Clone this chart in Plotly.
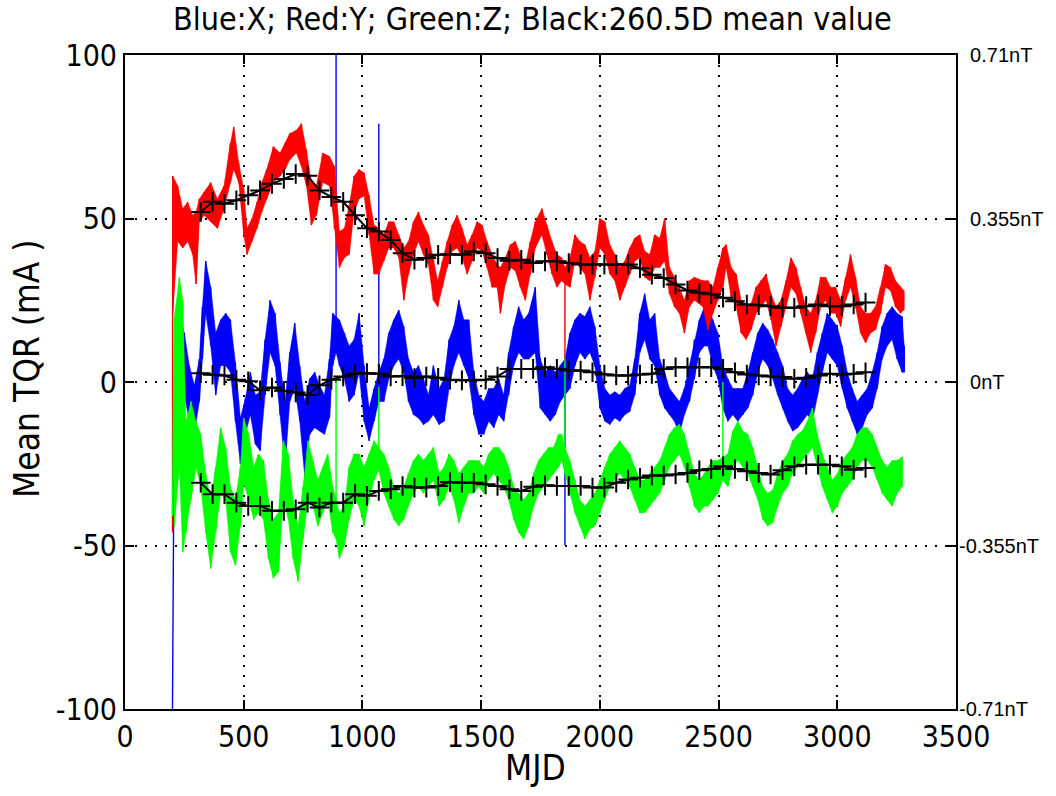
import plotly.graph_objects as go

# ---------------- data ----------------
start_mjd = 200
red_start = -46
blue_start = -100
green_start = -41

red_mjd = [201, 222, 243, 264, 285, 299, 313, 333, 361, 389,
           417, 444, 458, 479, 500, 514, 535, 556, 576, 597,
           625, 653, 674, 694, 722, 743, 764, 785, 806, 833,
           861, 882, 903, 924, 944, 965, 986, 1007, 1028, 1049,
           1069, 1090, 1111, 1132, 1153, 1174, 1194, 1215, 1236, 1257,
           1278, 1299, 1317,
           1337, 1357, 1378, 1399, 1420, 1441, 1462, 1483, 1504, 1525,
           1546, 1567, 1581, 1602, 1623, 1644, 1665, 1686, 1707, 1728,
           1756, 1777, 1798, 1819, 1839, 1853, 1874, 1895, 1916, 1937,
           1958, 1979, 2000, 2021, 2042, 2063, 2084, 2105, 2126, 2147,
           2168, 2189, 2210, 2231, 2252, 2273, 2293, 2314, 2335, 2356,
           2377, 2398,
           2434, 2455, 2476, 2497, 2518, 2532, 2553, 2574, 2595, 2616,
           2637, 2658, 2679, 2700, 2721, 2742, 2763, 2784, 2805, 2826,
           2846, 2867, 2888, 2909, 2930, 2951, 2972, 2993, 3014, 3035,
           3056, 3077, 3098, 3119, 3140, 3161, 3182, 3203, 3224, 3245,
           3266, 3280]
red_hi = [63, 60, 53, 55, 51, 52, 56, 58, 61, 56,
          60, 73, 78, 67, 59, 47, 50, 55, 61, 65,
          72, 70, 73, 76, 77, 79, 71, 61, 60, 70,
          69, 66, 46, 47, 54, 63, 65, 64, 57, 48,
          47, 45, 49, 49, 45, 41, 43, 49, 52, 48,
          45, 38, 31,
          37, 43, 48, 51, 47, 42, 45, 49, 48, 43,
          39, 36, 35, 38, 42, 43, 39, 36, 43, 49,
          53, 48, 43, 39, 38, 35, 38, 45, 43, 42,
          38, 40, 50, 49, 42, 39, 35, 37, 41, 44,
          45, 40, 39, 45, 44, 50, 35, 32, 29, 25,
          31, 32,
          31, 31, 29, 35, 41, 42, 35, 33, 25, 23,
          24, 29, 31, 33, 27, 23, 25, 31, 38, 35,
          29, 23, 21, 25, 32, 32, 29, 29, 25, 32,
          39, 32, 23, 21, 21, 23, 29, 36, 35, 31,
          29, 28]
red_lo = [21, 43, 41, 43, 39, 30, 49, 51, 49, 47,
          53, 61, 65, 61, 45, 39, 43, 47, 52, 56,
          61, 63, 65, 68, 70, 66, 60, 48, 51, 61,
          60, 47, 35, 38, 39, 52, 56, 57, 45, 33,
          33, 37, 41, 41, 38, 25, 33, 39, 43, 39,
          36, 25, 23,
          29, 35, 40, 41, 38, 33, 37, 41, 40, 35,
          29, 29, 21, 30, 35, 34, 29, 25, 33, 41,
          45, 39, 33, 29, 31, 30, 29, 37, 35, 33,
          25, 32, 41, 39, 33, 31, 25, 29, 33, 37,
          38, 32, 31, 35, 35, 37, 27, 23, 21, 15,
          23, 25,
          23, 16, 21, 25, 29, 35, 26, 23, 15, 13,
          16, 21, 23, 25, 19, 11, 17, 23, 29, 27,
          21, 15, 9, 15, 23, 25, 21, 21, 17, 25,
          29, 23, 15, 12, 15, 16, 21, 29, 28, 23,
          21, 22]
red_spike_mjd = [1853]
red_spike_val = [7]

blue_mjd = [208, 229, 250, 271, 292, 313, 326, 340, 361, 382,
            403, 424, 444, 465, 486, 507, 528, 549, 569, 590,
            611, 632, 653, 674, 694, 715, 736, 757, 778, 799,
            819, 840, 861, 875, 889, 903, 924, 944, 965, 986,
            1007, 1028, 1049, 1069, 1090, 1111, 1132, 1153, 1174, 1194,
            1215, 1236, 1257, 1278, 1299,
            1323, 1344, 1365, 1385, 1406, 1427, 1448, 1469, 1490, 1511,
            1532, 1553, 1574, 1595, 1616, 1637, 1658, 1679, 1700, 1728,
            1749, 1770, 1791, 1812, 1833, 1853, 1874, 1895, 1916, 1937,
            1958, 1979, 2000, 2021, 2042, 2063, 2084, 2105, 2126, 2147,
            2168, 2189, 2210, 2231, 2252, 2273, 2293, 2314, 2335, 2356,
            2377, 2398, 2419, 2440,
            2455, 2476, 2497, 2518, 2539, 2560, 2581, 2602, 2623, 2644,
            2665, 2686, 2707, 2728, 2749, 2770, 2791, 2812, 2833, 2853,
            2874, 2895, 2916, 2937, 2958, 2979, 3000, 3021, 3042, 3063,
            3084, 3105, 3126, 3147, 3168, 3189, 3210, 3231, 3252, 3273,
            3282]
blue_hi = [-2, 21, 15, 5, -1, 7, 23, 37, 29, 15,
           19, 21, 19, 6, -11, -5, 3, -4, -3, 13,
           25, 21, 6, -6, 9, 18, 5, -6, 1, 3,
           -1, -4, 7, 21, 20, 19, 15, 11, 13, 21,
           5, -8, -2, 3, 7, 15, 19, 22, 17, 7,
           3, 5, 1, -4, 5,
           -2, 1, 13, 17, 25, 19, 19, 3, -4, -6,
           -2, -2, 1, -4, 9, 17, 23, 19, 21, 29,
           7, 3, 5, 3, 5, 7, 15, 19, 21, 20,
           23, 17, 5, -2, -4, -3, -4, -2, -1, 7,
           21, 27, 19, 21, 7, 3, -2, -4, -6, -2,
           5, 13, 19, 23,
           23, 19, 15, 5, 1, -2, -2, -2, 3, 9,
           15, 18, 16, 13, 9, 5, -2, -4, -2, 1,
           3, 1, 9, 15, 21, 19, 17, 11, 3, -2,
           -6, -4, -2, 3, 9, 17, 21, 23, 21, 20,
           11]
blue_lo = [-33, -6, -4, -12, -16, -6, 7, 21, 11, -4,
           5, 5, 3, -12, -25, -16, -10, -19, -21, -4,
           9, 5, -10, -26, -6, -2, -12, -29, -16, -14,
           -15, -16, -11, 5, 9, 5, 1, -6, -4, 3,
           -12, -18, -12, -6, -6, 1, 5, 7, 3, -6,
           -10, -11, -13, -12, -10,
           -13, -12, -2, 5, 9, 5, 1, -10, -16, -16,
           -12, -14, -10, -12, -4, 5, 9, 7, 7, 9,
           -8, -10, -12, -10, -6, -4, -2, 5, 9, 7,
           9, 5, -8, -12, -13, -11, -12, -10, -9, -4,
           9, 13, 7, 5, -4, -8, -10, -12, -16, -10,
           -6, 1, 9, 11,
           11, 5, 1, -8, -12, -10, -12, -10, -8, -4,
           3, 7, 5, 1, -4, -8, -12, -15, -14, -12,
           -10, -12, -4, 3, 9, 7, 5, -2, -8, -12,
           -16, -14, -10, -8, -2, 7, 11, 13, 7, 3,
           3]
blue_spike_mjd = [889, 1069, 1853]
blue_spike_val = [100, 79, -50]

green_mjd = [208, 229, 243, 257, 278, 299, 319, 340, 361, 382,
             403, 424, 444, 465, 486, 500, 521, 542, 562, 583,
             604, 625, 646, 667, 688, 708, 729, 750, 771, 792,
             812, 833, 854, 875, 889, 903, 924, 944, 965, 986,
             1007, 1028, 1049, 1069, 1090, 1111, 1132, 1153, 1174, 1194,
             1215, 1236, 1257, 1278, 1299,
             1323, 1344, 1365, 1385, 1406, 1427, 1448, 1469, 1490, 1511,
             1532, 1553, 1574, 1595, 1616, 1637, 1658, 1679, 1700, 1721,
             1742, 1763, 1784, 1805, 1826, 1839, 1853, 1874, 1895, 1916,
             1937, 1958, 1979, 2000, 2021, 2042, 2063, 2084, 2105, 2126,
             2147, 2168, 2189, 2210, 2231, 2252, 2273, 2293, 2314, 2335,
             2356, 2377, 2398, 2419, 2440,
             2455, 2476, 2497, 2518, 2539, 2560, 2581, 2602, 2623, 2644,
             2665, 2686, 2707, 2728, 2749, 2770, 2791, 2812, 2833, 2853,
             2874, 2895, 2916, 2937, 2958, 2979, 3000, 3021, 3042, 3063,
             3084, 3105, 3126, 3147, 3168, 3189, 3210, 3231, 3252, 3273]
green_hi = [20, 32, 25, -12, -6, -12, -16, -28, -36, -26,
            -14, -20, -32, -36, -26, -11, -16, -26, -22, -24,
            -36, -42, -40, -18, -22, -36, -44, -32, -18, -24,
            -30, -26, -22, -32, -36, -40, -38, -26, -22, -22,
            -26, -22, -18, -20, -22, -26, -32, -34, -32, -28,
            -24, -22, -24, -22, -20,
            -28, -26, -22, -24, -28, -26, -24, -24, -24, -26,
            -22, -20, -20, -22, -26, -32, -34, -36, -34, -28,
            -24, -22, -20, -20, -16, -16, -20, -24, -30, -36,
            -38, -36, -34, -30, -26, -22, -20, -18, -20, -22,
            -26, -30, -30, -28, -26, -24, -20, -16, -14, -13,
            -16, -22, -28, -30, -28,
            -26, -24, -24, -23, -22, -15, -12, -15, -16, -20,
            -26, -32, -34, -33, -28, -24, -22, -18, -16, -15,
            -12, -8, -16, -22, -26, -30, -28, -24, -22, -20,
            -16, -14, -14, -16, -20, -24, -26, -24, -24, -23]
green_lo = [-44, -26, -52, -46, -36, -26, -32, -46, -57, -46,
            -34, -36, -52, -56, -44, -31, -36, -42, -40, -42,
            -54, -60, -58, -36, -42, -54, -61, -48, -36, -38,
            -44, -40, -36, -46, -48, -54, -50, -42, -36, -38,
            -44, -36, -30, -27, -34, -38, -42, -44, -42, -38,
            -34, -32, -34, -32, -30,
            -38, -36, -32, -36, -43, -38, -34, -34, -32, -34,
            -30, -28, -30, -32, -36, -42, -46, -48, -44, -38,
            -34, -32, -30, -28, -26, -24, -28, -34, -40, -44,
            -48, -45, -44, -40, -36, -32, -30, -28, -30, -32,
            -36, -40, -40, -38, -36, -34, -30, -26, -24, -22,
            -26, -32, -38, -40, -38,
            -38, -36, -34, -30, -32, -26, -24, -26, -28, -32,
            -36, -42, -44, -43, -38, -34, -32, -28, -26, -24,
            -22, -20, -26, -32, -36, -40, -38, -34, -32, -30,
            -26, -24, -24, -26, -30, -34, -36, -38, -34, -32]
green_spike_mjd = [889, 1069, 1853, 2518]
green_spike_val = [1.5, -1.5, 7, 0]

mean_mjd = [319, 369, 419, 469, 519, 569, 619, 669, 719, 769,
            819, 869, 919, 969, 1019, 1069, 1119, 1169, 1219, 1269,
            1319, 1369, 1419, 1469, 1519, 1569, 1619, 1669, 1719, 1769,
            1819, 1869, 1919, 1969, 2019, 2069, 2119, 2169, 2219, 2269,
            2319, 2369, 2419, 2469, 2519, 2569, 2619, 2669, 2719, 2769,
            2819, 2869, 2919, 2969, 3019, 3069, 3119]
red_mean = [52.0, 55.1, 54.5, 55.6, 57.1, 58.6, 60.6, 62.1, 63.6, 63.1,
            58.6, 56.6, 55.1, 51.0, 47.0, 46.0, 43.4, 39.4, 37.4, 37.9,
            38.9, 39.1, 38.9, 39.9, 39.4, 37.9, 37.1, 37.4, 36.4, 36.9,
            36.9, 36.4, 35.9, 35.9, 35.9, 35.9, 35.9, 34.8, 32.8, 31.8,
            29.8, 28.0, 27.3, 26.8, 25.8, 24.7, 23.7, 23.5, 23.2, 22.7,
            22.7, 23.2, 23.7, 23.2, 23.2, 23.7, 24.3]
blue_mean = [2.7, 2.2, 2.0, 0.7, 0.2, -2.5, -1.7, -2.7, -3.2, -4.0,
             -1.0, 0.7, 1.7, 2.5, 2.7, 2.5, 1.7, 1.8, 1.2, 1.7,
             1.3, 0.7, 0.5, 0.5, 0.7, 1.7, 4.0, 4.0, 4.0, 4.5,
             4.0, 3.5, 3.5, 3.0, 2.3, 2.0, 2.0, 2.3, 2.5, 4.0,
             4.5, 4.5, 4.5, 4.5, 4.0, 3.0, 2.3, 2.0, 1.7, 1.5,
             1.0, 1.3, 2.0, 2.5, 2.3, 2.5, 3.0]
green_mean = [-30.8, -34.3, -34.3, -36.9, -37.9, -37.9, -39.4, -39.4, -38.9, -36.9,
              -38.4, -36.9, -36.9, -34.3, -34.8, -33.3, -32.8, -31.8, -32.3, -32.3,
              -31.8, -30.6, -30.8, -30.8, -31.3, -31.8, -32.8, -33.3, -32.0, -31.6,
              -31.8, -31.8, -31.8, -32.3, -32.3, -30.8, -29.8, -29.3, -28.6, -28.6,
              -28.3, -27.8, -27.0, -26.6, -25.8, -26.6, -27.3, -27.8, -28.3, -27.0,
              -25.8, -25.3, -25.3, -25.3, -25.8, -26.8, -26.3]

x_ticks = [0, 500, 1000, 1500, 2000, 2500, 3000, 3500]
x_ticktext = ["0", "500", "1000", "1500", "2000", "2500", "3000", "3500"]
y_ticks = [-100, -50, 0, 50, 100]
y_ticktext = ["-100", "-50", "0", "50", "100"]
y2_ticktext = ["-0.71nT", "-0.355nT", "\u00a0\u00a00nT", "\u00a0\u00a00.355nT", "\u00a0\u00a00.71nT"]

TITLE = "Blue:X; Red:Y; Green:Z; Black:260.5D mean value"
X_TITLE = "MJD"
Y_TITLE = "Mean TQR (mA )"

NARROW = "Liberation Sans Narrow, DejaVu Sans Condensed, Arial Narrow, sans-serif"
REGULAR = "Liberation Sans, Arial, sans-serif"


def zigzag(first_x, first_y, xs, his, los, spike_x, spike_y):
    """Noisy trace: each read column goes to its upper reading, any spike, then its lower reading."""
    spikes = dict(zip(spike_x, spike_y))
    px, py = [first_x], [first_y]
    for x, h, l in zip(xs, his, los):
        px.append(x)
        py.append(h)
        if x in spikes:
            px.append(x)
            py.append(spikes[x])
        px.append(x)
        py.append(l)
    return px, py


fig = go.Figure()

series = [
    ("#0000ff", start_mjd, blue_start, blue_mjd, blue_hi, blue_lo, blue_spike_mjd, blue_spike_val),
    ("#ff0000", start_mjd, red_start, red_mjd, red_hi, red_lo, red_spike_mjd, red_spike_val),
    ("#00ff00", start_mjd, green_start, green_mjd, green_hi, green_lo, green_spike_mjd, green_spike_val),
]

LW = 1.4
for color, sx, sy, xs, his, los, spx, spy in series:
    # dense band of the noisy daily values (between the read upper and lower readings)
    fig.add_trace(go.Scatter(
        x=list(xs) + list(xs)[::-1], y=list(his) + list(los)[::-1],
        mode="lines", fill="toself", fillcolor=color,
        line=dict(color=color, width=0.5), hoverinfo="skip"))
    zx, zy = zigzag(sx, sy, xs, his, los, spx, spy)
    fig.add_trace(go.Scatter(x=zx, y=zy, mode="lines",
                             line=dict(color=color, width=LW), hoverinfo="skip"))

for mv in (red_mean, blue_mean, green_mean):
    fig.add_trace(go.Scatter(
        x=mean_mjd, y=mv, mode="lines+markers", yaxis="y2",
        line=dict(color="black", width=2),
        marker=dict(symbol="cross-thin", size=14, line=dict(color="black", width=2)),
        hoverinfo="skip"))

axis_common = dict(
    ticks="inside", ticklen=9, tickwidth=1.5, tickcolor="black",
    showline=True, linecolor="black", linewidth=2,
    showgrid=True, gridcolor="black", gridwidth=1.5, griddash="2px,8px",
    zeroline=False,
)

fig.update_layout(
    width=1056, height=796,
    margin=dict(l=125, r=98, t=55, b=87, pad=0),
    paper_bgcolor="white", plot_bgcolor="white",
    showlegend=False,
    xaxis=dict(range=[0, 3500], tickvals=x_ticks, ticktext=x_ticktext, mirror="ticks",
               tickfont=dict(family=NARROW, size=30, color="black"), **axis_common),
    yaxis=dict(range=[-100, 100], tickvals=y_ticks, ticktext=y_ticktext, mirror=True,
               tickfont=dict(family=NARROW, size=30, color="black"), **axis_common),
    yaxis2=dict(range=[-100, 100], tickvals=y_ticks, ticktext=y2_ticktext,
                overlaying="y", side="right", ticks="inside", ticklen=9, tickwidth=1.5,
                tickcolor="black", showline=False, showgrid=False, zeroline=False,
                ticklabelstandoff=2,
                tickfont=dict(family=REGULAR, size=20, color="black")),
    annotations=[
        dict(text=TITLE, xref="paper", yref="paper", x=0.4898, y=1.055,
             xanchor="center", yanchor="middle", showarrow=False,
             font=dict(family=NARROW, size=32, color="black")),
        dict(text=X_TITLE, xref="paper", yref="paper", x=0.494, y=-0.09,
             xanchor="center", yanchor="middle", showarrow=False,
             font=dict(family=NARROW, size=35, color="black")),
        dict(text=Y_TITLE, xref="paper", yref="paper", x=-0.118, y=0.52,
             xanchor="center", yanchor="middle", showarrow=False, textangle=-90,
             font=dict(family=NARROW, size=35, color="black")),
    ],
)

fig.write_html("out.html")
